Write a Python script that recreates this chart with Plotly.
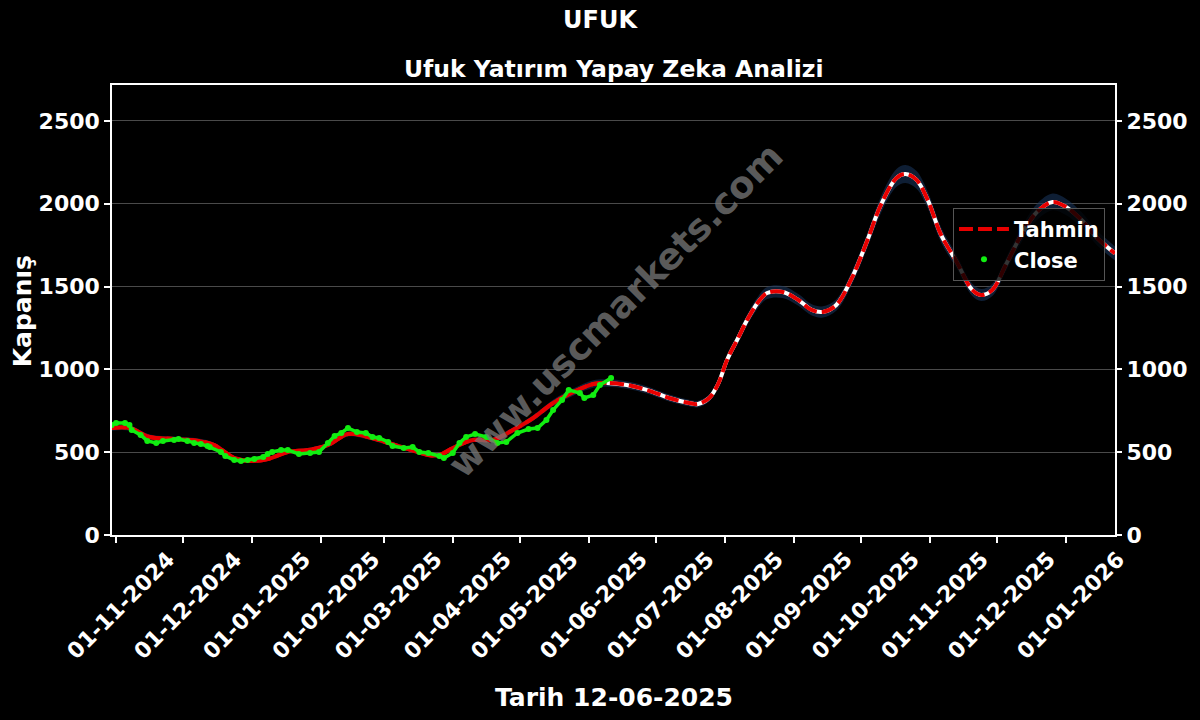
import plotly.graph_objects as go

# ---- Data ----
close_dates = [
    "2024-10-30", "2024-11-01", "2024-11-05", "2024-11-07", "2024-11-08", "2024-11-12",
    "2024-11-15", "2024-11-19", "2024-11-22", "2024-11-27", "2024-11-29", "2024-12-03",
    "2024-12-06", "2024-12-09", "2024-12-12", "2024-12-13", "2024-12-18", "2024-12-20",
    "2024-12-24", "2024-12-27", "2024-12-30", "2025-01-02", "2025-01-06", "2025-01-08",
    "2025-01-10", "2025-01-14", "2025-01-17", "2025-01-22", "2025-01-27", "2025-01-31",
    "2025-02-04", "2025-02-07", "2025-02-10", "2025-02-13", "2025-02-17", "2025-02-21",
    "2025-02-24", "2025-02-27", "2025-03-03", "2025-03-05", "2025-03-10", "2025-03-14",
    "2025-03-17", "2025-03-21", "2025-03-26", "2025-03-28", "2025-04-01", "2025-04-04",
    "2025-04-07", "2025-04-11", "2025-04-16", "2025-04-21", "2025-04-25", "2025-04-30",
    "2025-05-05", "2025-05-09", "2025-05-13", "2025-05-16", "2025-05-20", "2025-05-23",
    "2025-05-28", "2025-05-30", "2025-06-03", "2025-06-06", "2025-06-11",
]
close_values = [
    664, 676, 676, 664, 634, 604,
    568, 556, 568, 574, 580, 568,
    556, 550, 537, 531, 501, 477,
    453, 447, 453, 459, 471, 489,
    501, 513, 513, 489, 495, 501,
    556, 598, 616, 646, 622, 616,
    592, 586, 562, 537, 525, 531,
    501, 495, 477, 465, 495, 556,
    592, 610, 592, 556, 562, 616,
    640, 646, 694, 755, 815, 876,
    857, 827, 845, 906, 948,
]

tahmin_dates = [
    "2024-10-30", "2024-11-07", "2024-11-16", "2024-11-27", "2024-12-08", "2024-12-15",
    "2024-12-24", "2024-12-31", "2025-01-08", "2025-01-17", "2025-01-26", "2025-02-04",
    "2025-02-13", "2025-02-22", "2025-03-03", "2025-03-12", "2025-03-21", "2025-03-26",
    "2025-04-01", "2025-04-10", "2025-04-19", "2025-04-28", "2025-05-07", "2025-05-16",
    "2025-05-25", "2025-06-03", "2025-06-09", "2025-06-18", "2025-06-27", "2025-07-07",
    "2025-07-16", "2025-07-20", "2025-07-25", "2025-07-29", "2025-08-02", "2025-08-07",
    "2025-08-11", "2025-08-16", "2025-08-20", "2025-08-27", "2025-09-03", "2025-09-09",
    "2025-09-14", "2025-09-20", "2025-09-27", "2025-10-04", "2025-10-10", "2025-10-17",
    "2025-10-21", "2025-10-26", "2025-10-31", "2025-11-06", "2025-11-13", "2025-11-20",
    "2025-11-24", "2025-11-29", "2025-12-05", "2025-12-12", "2025-12-19", "2025-12-26",
    "2026-01-01", "2026-01-08", "2026-01-15", "2026-01-23",
]
tahmin_values = [
    646, 646, 592, 580, 568, 543,
    465, 447, 459, 501, 513, 543,
    610, 592, 556, 519, 483, 483,
    525, 574, 574, 634, 706, 797,
    863, 912, 918, 906, 876, 827,
    797, 791, 827, 912, 1057, 1190,
    1298, 1407, 1461, 1467, 1419, 1359,
    1347, 1389, 1552, 1781, 1993, 2156,
    2180, 2144, 2023, 1812, 1649, 1480,
    1449, 1480, 1630, 1812, 1950, 2011,
    1981, 1902, 1793, 1700,
]
forecast_start = "2025-06-09"
band_pct = 0.025

y_ticks = [0, 500, 1000, 1500, 2000, 2500]
x_ticks = ["2024-11-01", "2024-12-01", "2025-01-01", "2025-02-01", "2025-03-01", "2025-04-01",
           "2025-05-01", "2025-06-01", "2025-07-01", "2025-08-01", "2025-09-01", "2025-10-01",
           "2025-11-01", "2025-12-01", "2026-01-01"]
x_tick_text = ["01-11-2024", "01-12-2024", "01-01-2025", "01-02-2025", "01-03-2025", "01-04-2025",
               "01-05-2025", "01-06-2025", "01-07-2025", "01-08-2025", "01-09-2025", "01-10-2025",
               "01-11-2025", "01-12-2025", "01-01-2026"]

FONT = "DejaVu Sans"

upper = [v * (1 + band_pct) for v in tahmin_values]
lower = [v * (1 - band_pct) for v in tahmin_values]

fut_idx = tahmin_dates.index(forecast_start)
past_d, past_v = tahmin_dates[:fut_idx + 1], tahmin_values[:fut_idx + 1]
fut_d, fut_v = tahmin_dates[fut_idx:], tahmin_values[fut_idx:]

GREEN = "#11ee11"

fig = go.Figure()

# confidence band
fig.add_trace(go.Scatter(x=tahmin_dates, y=upper, mode="lines", line=dict(width=0, shape="spline"),
                         showlegend=False, hoverinfo="skip"))
fig.add_trace(go.Scatter(x=tahmin_dates, y=lower, mode="lines", line=dict(width=0, shape="spline"),
                         fill="tonexty", fillcolor="rgba(25,55,95,0.55)", showlegend=False, hoverinfo="skip"))

# red solid under past, white under future
fig.add_trace(go.Scatter(x=past_d, y=past_v, mode="lines", line=dict(color="#e00000", width=4, shape="spline"),
                         showlegend=False, hoverinfo="skip"))
fig.add_trace(go.Scatter(x=fut_d, y=fut_v, mode="lines", line=dict(color="white", width=4, shape="spline"),
                         showlegend=False, hoverinfo="skip"))
# Tahmin dashed
fig.add_trace(go.Scatter(x=tahmin_dates, y=tahmin_values, mode="lines", name="Tahmin",
                         line=dict(color="#e80000", width=4, dash="14px,5px", shape="spline")))
# Close: connecting line (no legend) + markers (legend)
fig.add_trace(go.Scatter(x=close_dates, y=close_values, mode="lines",
                         line=dict(color=GREEN, width=3.5), showlegend=False, hoverinfo="skip"))
fig.add_trace(go.Scatter(x=close_dates, y=close_values, mode="markers", name="Close",
                         marker=dict(color=GREEN, size=6)))
# invisible trace for right axis
fig.add_trace(go.Scatter(x=[tahmin_dates[0]], y=[tahmin_values[0]], yaxis="y2", mode="markers",
                         marker=dict(opacity=0), showlegend=False, hoverinfo="skip"))

axis_font = dict(family=FONT, size=22, color="white", weight="bold")

fig.update_layout(
    width=1200, height=720,
    paper_bgcolor="black", plot_bgcolor="black",
    margin=dict(l=112, r=82, t=85, b=185),
    font=dict(family=FONT, color="white"),
    title=dict(text="UFUK", x=0.5, xanchor="center", y=1 - 20 / 720, yanchor="middle",
               font=dict(family=FONT, size=24, color="white", weight="bold")),
    annotations=[
        dict(text="Ufuk Yatırım Yapay Zeka Analizi", xref="paper", yref="paper",
             x=0.5, y=(535 - 69) / 450, xanchor="center", yanchor="middle", showarrow=False,
             font=dict(family=FONT, size=23.5, color="white", weight="bold")),
        dict(text="www.uscmarkets.com", xref="paper", yref="paper",
             x=(617 - 112) / 1006, y=(535 - 310) / 450, textangle=-45, showarrow=False,
             font=dict(family=FONT, size=37, color="rgba(120,120,120,0.75)", weight="bold")),
        dict(text="Tarih 12-06-2025", xref="paper", yref="paper",
             x=(615 - 112) / 1006, y=-(697 - 535) / 450, xanchor="center", yanchor="middle",
             showarrow=False, font=dict(family=FONT, size=25, color="white", weight="bold")),
        dict(text="Kapanış", xref="paper", yref="paper", textangle=-90,
             x=-(112 - 22) / 1006, y=(535 - 311) / 450, xanchor="center", yanchor="middle",
             showarrow=False, font=dict(family=FONT, size=25, color="white", weight="bold")),
    ],
    xaxis=dict(
        type="date", range=["2024-10-30 04:00", "2026-01-23"],
        tickvals=x_ticks, ticktext=x_tick_text, tickangle=-45, ticklabelshift=52,
        ticklabelstandoff=-5,
        tickfont=axis_font, ticks="outside", ticklen=6, tickwidth=1.5, tickcolor="white",
        showline=True, linecolor="white", linewidth=1.5, mirror=True,
        showgrid=False, zeroline=False,
    ),
    yaxis=dict(
        range=[0, 2717], tickvals=y_ticks, tickfont=axis_font,
        ticks="outside", ticklen=6, tickwidth=1.5, tickcolor="white",
        showline=True, linecolor="white", linewidth=1.5, mirror=True,
        showgrid=True, gridcolor="#4a4a4a", gridwidth=1, zeroline=False,
    ),
    yaxis2=dict(
        range=[0, 2717], tickvals=y_ticks, tickfont=axis_font, overlaying="y", side="right",
        ticks="outside", ticklen=6, tickwidth=1.5, tickcolor="white",
        showgrid=False, zeroline=False, showline=False,
    ),
    legend=dict(
        x=0.990, y=0.727, xanchor="right", yanchor="top", traceorder="normal",
        bgcolor="rgba(0,0,0,0.8)", bordercolor="#555555", borderwidth=1,
        font=dict(family=FONT, size=21, color="white", weight="bold"),
        itemwidth=50,
    ),
    showlegend=True,
)

fig.write_html("out.html", config={"displayModeBar": False},
               post_script="document.body.style.margin='0';document.body.style.background='black';")
